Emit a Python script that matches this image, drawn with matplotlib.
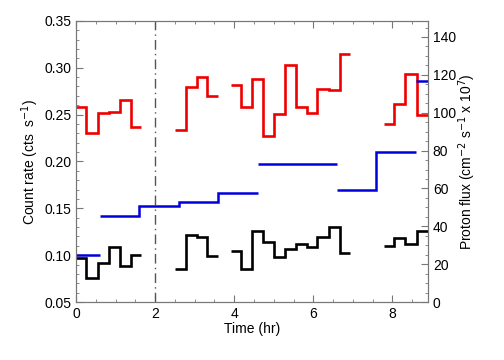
import matplotlib
matplotlib.use("Agg")
import matplotlib.pyplot as plt
from matplotlib.ticker import MultipleLocator

plt.rcParams['font.family'] = ['Liberation Sans', 'DejaVu Sans']

# time bin edges (hr) and count rates for the two bands, four observing chunks
edges1 = [0.0, 0.26, 0.55, 0.84, 1.10, 1.39, 1.65]
red1 = [0.258, 0.230, 0.252, 0.253, 0.266, 0.237]
black1 = [0.0966, 0.0753, 0.0913, 0.109, 0.0887, 0.100]

edges2 = [2.50, 2.77, 3.05, 3.32, 3.60]
red2 = [0.2336, 0.279, 0.2905, 0.270]
black2 = [0.0849, 0.1215, 0.119, 0.0994]

edges3 = [3.91, 4.16, 4.45, 4.72, 5.00, 5.28, 5.56, 5.83, 6.10, 6.39, 6.67, 6.94]
red3 = [0.2816, 0.258, 0.288, 0.2275, 0.2506, 0.303, 0.258, 0.252, 0.277, 0.276, 0.315]
black3 = [0.1044, 0.0855, 0.126, 0.1144, 0.0977, 0.1066, 0.112, 0.109, 0.1197, 0.1297, 0.1026]

edges4 = [7.80, 8.05, 8.33, 8.62, 8.90]
red4 = [0.240, 0.261, 0.293, 0.250]
black4 = [0.1098, 0.118, 0.112, 0.1258]

# proton flux (x 1e7), drawn as separate step pieces
flux_edges = [[0.0, 0.6],
              [0.6, 1.6, 2.6, 3.6, 4.59],
              [4.6, 6.6],
              [6.6, 7.58, 8.6],
              [8.6, 8.9]]
flux_vals = [[25.0],
             [45.2, 50.8, 53.0, 57.6],
             [73.0],
             [59.0, 79.0],
             [116.5]]

t_mark = 2.0

fig = plt.figure(figsize=(5.04, 3.6), dpi=100)
ax = fig.add_axes([0.151, 0.161, 0.698, 0.781])

for e, r, b in [(edges1, red1, black1), (edges2, red2, black2),
                (edges3, red3, black3), (edges4, red4, black4)]:
    ax.stairs(r, e, baseline=None, color='#ee0000', lw=1.9)
    ax.stairs(b, e, baseline=None, color='black', lw=1.9)

ax.axvline(t_mark, color='#555555', lw=1.0, linestyle=(0, (7, 3, 1, 3)))

ax.set_xlim(0, 8.9)
ax.set_ylim(0.05, 0.35)
ax.xaxis.set_major_locator(MultipleLocator(2))
ax.xaxis.set_minor_locator(MultipleLocator(0.5))
ax.yaxis.set_major_locator(MultipleLocator(0.05))
ax.yaxis.set_minor_locator(MultipleLocator(0.01))
ax.yaxis.set_major_formatter(plt.FormatStrFormatter('%.2f'))
ax.tick_params(which='both', direction='in', top=True, right=False, labelsize=10,
               color='#777777')
ax.tick_params(which='major', length=5)
ax.tick_params(which='minor', length=2.5)
ax.set_xlabel('Time (hr)', fontsize=10, labelpad=1)
ax.set_ylabel('Count rate (cts  s$^{-1}$)', fontsize=10, labelpad=2)

ax2 = ax.twinx()
for e, v in zip(flux_edges, flux_vals):
    ax2.stairs(v, e, baseline=None, color='#0000dd', lw=1.8)
ax2.set_ylim(0, 148.5)
ax2.yaxis.set_major_locator(MultipleLocator(20))
ax2.yaxis.set_minor_locator(MultipleLocator(5))
ax2.tick_params(which='both', direction='in', labelsize=10, color='#777777')
ax2.tick_params(which='major', length=5)
ax2.tick_params(which='minor', length=2.5)
ax2.set_ylabel('Proton flux (cm$^{-2}$ s$^{-1}$ x 10$^{7}$)', fontsize=10, labelpad=0)

for a in (ax, ax2):
    for s in a.spines.values():
        s.set_color('#777777')
        s.set_linewidth(0.8)

fig.savefig('out.png', dpi=100)
